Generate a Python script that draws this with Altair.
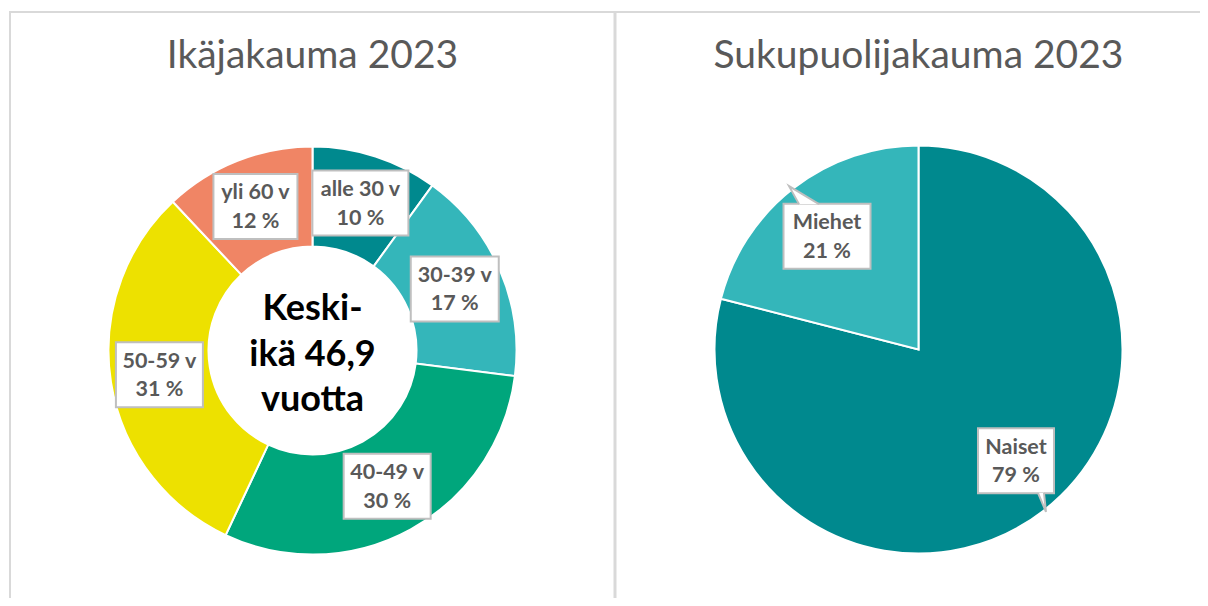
import altair as alt
import pandas as pd

# ---------------- data ----------------
age_labels = ["alle 30 v", "30-39 v", "40-49 v", "50-59 v", "yli 60 v"]
age_values = [10, 17, 30, 31, 12]
age_colors = ["#00898E", "#34B6BA", "#00A67C", "#EDE100", "#F08565"]

gender_labels = ["Naiset", "Miehet"]
gender_values = [79, 21]
gender_colors = ["#00898E", "#34B6BA"]

mean_age = "46,9"
title_age = "Ikäjakauma 2023"
title_gender = "Sukupuolijakauma 2023"

# ---------------- styles ----------------
FONT = "Lato"
GREY_TXT = "#595959"
BOX_STROKE = "#BFBFBF"
BORDER = "#D9D9D9"
box_w = {"alle 30 v": 96, "30-39 v": 88, "40-49 v": 87, "50-59 v": 87,
         "yli 60 v": 84, "Naiset": 76, "Miehet": 87}
nudge = {"Naiset": (8, -4), "Miehet": (-2, 2)}
pointer = {"Naiset": "M 22 32 L 30 51 L 28 32",
           "Miehet": "M -28 -32 L -38 -50 L -8 -32"}


def pg(v):
    return v - 8


W, H = 1192, 590
CX1, CY1 = pg(312.5), pg(350.5)
CX2, CY2 = pg(918.5), pg(349.5)


def make_df(labels, values):
    return pd.DataFrame({
        "label": labels,
        "value": values,
        "order": list(range(len(labels))),
        "text": [f"{l}\n{v} %" for l, v in zip(labels, values)],
        "bw": [box_w[l] for l in labels],
        "nx": [nudge.get(l, (0, 0))[0] for l in labels],
        "ny": [nudge.get(l, (0, 0))[1] for l in labels],
        "shape": [pointer.get(l, "circle") for l in labels],
    })


age_df = make_df(age_labels, age_values)
gen_df = make_df(gender_labels, gender_values)


def arcs(df, labels, colors, cx, cy, r, r2=0):
    return alt.Chart(df).mark_arc(radius=r, radius2=r2, stroke="white", strokeWidth=2).encode(
        x=alt.value(cx), y=alt.value(cy),
        theta=alt.Theta("value:Q", stack=True),
        color=alt.Color("label:N", scale=alt.Scale(domain=labels, range=colors), legend=None),
        order=alt.Order("order:Q"),
    )


def positioned(df, cx, cy, r):
    return alt.Chart(df).transform_joinaggregate(
        total="sum(value)"
    ).transform_window(
        cum="sum(value)", sort=[alt.SortField("order")], frame=[None, 0]
    ).transform_calculate(
        ang="(datum.cum - datum.value / 2) / datum.total * 2 * PI",
        lx=f"{cx} + {r} * sin(datum.ang) + datum.nx",
        ly=f"{cy} - {r} * cos(datum.ang) + datum.ny",
        x1="datum.lx - datum.bw / 2",
        x2="datum.lx + datum.bw / 2",
        y1="datum.ly - 32.5",
        y2="datum.ly + 32.5",
    )


def boxes(base):
    return base.mark_rect(fill="white", stroke=BOX_STROKE, strokeWidth=2).encode(
        x=alt.X("x1:Q", scale=None, axis=None), x2="x2:Q",
        y=alt.Y("y1:Q", scale=None, axis=None), y2="y2:Q",
    )


def labels_txt(base):
    return base.mark_text(font=FONT, fontSize=21.5, fontWeight="bold", color=GREY_TXT,
                          lineBreak="\n", lineHeight=28.5, baseline="alphabetic",
                          align="center", dy=-7).encode(
        x=alt.X("lx:Q", scale=None, axis=None),
        y=alt.Y("ly:Q", scale=None, axis=None),
        text="text:N",
    )


one = pd.DataFrame({"k": [0]})

# borders
borders = [
    alt.Chart(one).mark_rule(color=BORDER, strokeWidth=2).encode(
        x=alt.value(pg(9)), x2=alt.value(W), y=alt.value(pg(12)), y2=alt.value(pg(12))),
    alt.Chart(one).mark_rule(color=BORDER, strokeWidth=2).encode(
        x=alt.value(pg(10)), x2=alt.value(pg(10)), y=alt.value(pg(12)), y2=alt.value(H)),
    alt.Chart(one).mark_rule(color=BORDER, strokeWidth=3).encode(
        x=alt.value(pg(615)), x2=alt.value(pg(615)), y=alt.value(pg(12)), y2=alt.value(H)),
]

titles = [
    alt.Chart(one).mark_text(font=FONT, fontSize=39, color=GREY_TXT, baseline="alphabetic",
                             align="center").encode(
        x=alt.value(CX1), y=alt.value(pg(68)), text=alt.value(title_age)),
    alt.Chart(one).mark_text(font=FONT, fontSize=39, color=GREY_TXT, baseline="alphabetic",
                             align="center").encode(
        x=alt.value(CX2), y=alt.value(pg(68)), text=alt.value(title_gender)),
]

center_txt = alt.Chart(one).mark_text(
    font=FONT, fontSize=36, fontWeight="bold", color="black", lineBreak="\n",
    lineHeight=45.5, baseline="alphabetic", align="center"
).encode(x=alt.value(CX1), y=alt.value(pg(320)),
         text=alt.value("Keski-\nikä " + mean_age + "\nvuotta"))

age_base = positioned(age_df, CX1, CY1, 155)
gen_base = positioned(gen_df, CX2, CY2, 146)

pointers = gen_base.mark_point(size=4, fill="white", stroke=BOX_STROKE, strokeWidth=2,
                               opacity=1, fillOpacity=1, strokeOpacity=1, filled=True).encode(
    x=alt.X("lx:Q", scale=None, axis=None),
    y=alt.Y("ly:Q", scale=None, axis=None),
    shape=alt.Shape("shape:N", scale=None),
)

chart = alt.layer(
    *borders,
    *titles,
    arcs(age_df, age_labels, age_colors, CX1, CY1, 204, 104),
    arcs(gen_df, gender_labels, gender_colors, CX2, CY2, 204, 0),
    center_txt,
    boxes(age_base),
    boxes(gen_base),
    pointers,
    labels_txt(age_base),
    labels_txt(gen_base),
).resolve_scale(
    color="independent", theta="independent"
).properties(
    width=W, height=H, padding=0, autosize=alt.AutoSizeParams(type="none"), background="white"
).configure_view(stroke=None)

chart.save("out.html", embed_options={"renderer": "svg", "actions": False})
